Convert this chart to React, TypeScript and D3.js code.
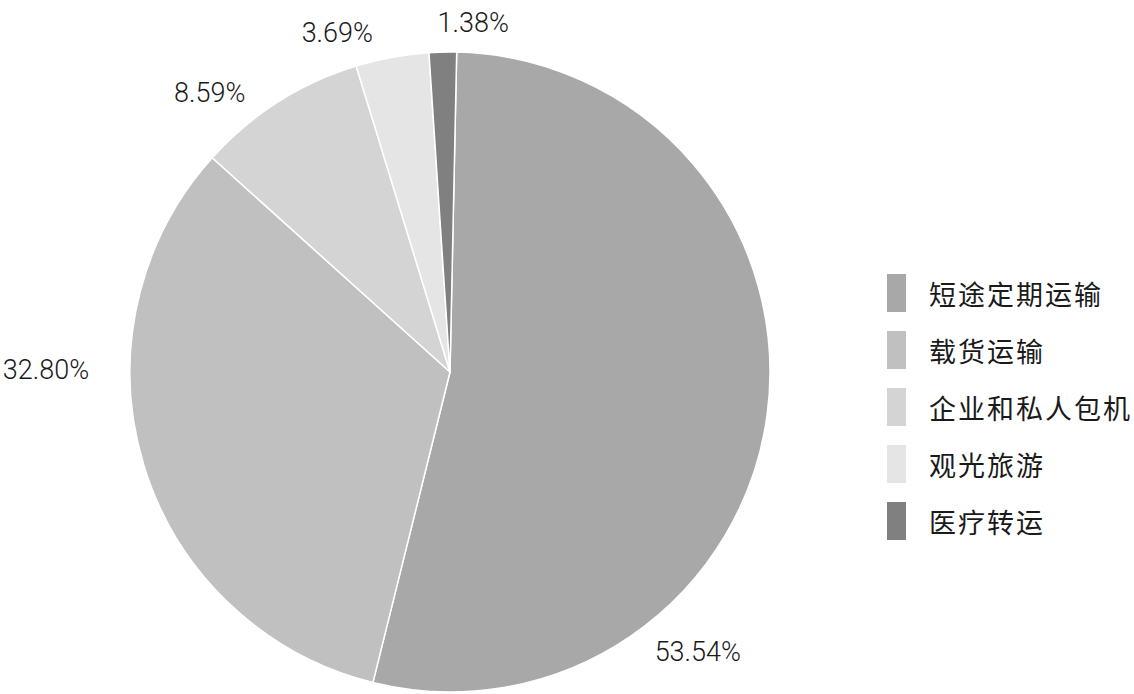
import { useMemo } from 'react';
import * as d3 from 'd3';

// data
const categories = ['短途定期运输', '载货运输', '企业和私人包机', '观光旅游', '医疗转运'];
const shares = [53.54, 32.8, 8.59, 3.69, 1.38];
const shareLabels = ['53.54%', '32.80%', '8.59%', '3.69%', '1.38%'];
const sliceColors = ['#a7a8a7', '#bfc0bf', '#d4d4d4', '#e5e5e5', '#808080'];

// label placement (angle in degrees clockwise from top, distance from centre)
const labelLayout: [number, number][] = [
  [138.5, 374],
  [270.35, 404],
  [319.25, 368],
  [341.6, 357],
  [3.8, 350],
];

const width = 1134;
const height = 694;
const cx = 450;
const cy = 372;
const radius = 320;
const startAngle = (1.2 * Math.PI) / 180;

const App = () => {
  const arcs = useMemo(() => {
    const pie = d3
      .pie<number>()
      .sort(null)
      .value((d) => d)
      .startAngle(startAngle)
      .endAngle(startAngle + 2 * Math.PI);
    return pie(shares);
  }, []);

  const arcGen = d3.arc<d3.PieArcDatum<number>>().innerRadius(0).outerRadius(radius);

  const legendY = d3
    .scalePoint<string>()
    .domain(categories)
    .range([293, 521]);

  return (
    <svg
      width={width}
      height={height}
      style={{ position: 'absolute', left: 0, top: 0, background: '#fff' }}
    >
      <g transform={`translate(${cx}, ${cy})`}>
        {arcs.map((a, i) => (
          <path
            key={i}
            d={arcGen(a) || ''}
            fill={sliceColors[i]}
            stroke="#fff"
            strokeWidth={1.5}
            strokeLinejoin="round"
          />
        ))}
        {shareLabels.map((t, i) => {
          const [deg, r] = labelLayout[i];
          const ang = (deg * Math.PI) / 180;
          return (
            <text
              key={i}
              x={r * Math.sin(ang)}
              y={-r * Math.cos(ang)}
              textAnchor="middle"
              dominantBaseline="central"
              fontFamily="Roboto, 'Noto Sans', sans-serif"
              fontWeight={300}
              fontSize={27}
              fill="#1a1a1a"
            >
              {t}
            </text>
          );
        })}
      </g>
      <g className="legend">
        {categories.map((c, i) => (
          <g key={c} transform={`translate(887, ${legendY(c)})`}>
            <rect x={0} y={-19} width={19} height={38} fill={sliceColors[i]} />
            <text
              x={42}
              y={0}
              dominantBaseline="central"
              fontFamily="'Noto Sans CJK SC', sans-serif"
              fontSize={27}
              letterSpacing={2}
              fill="#1a1a1a"
            >
              {c}
            </text>
          </g>
        ))}
      </g>
    </svg>
  );
};

export default App;
